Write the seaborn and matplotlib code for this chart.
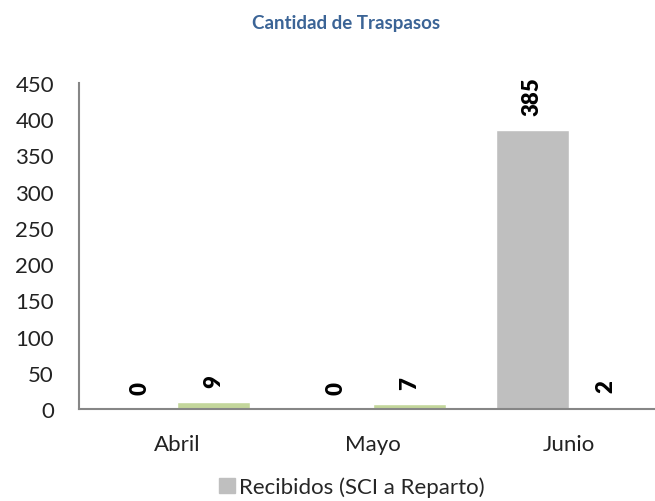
import matplotlib
matplotlib.use("Agg")
import matplotlib.pyplot as plt
import matplotlib.patches as mpatches
import seaborn as sns
import pandas as pd

# datos
meses = ["Abril", "Mayo", "Junio"]
recibidos = [0, 0, 385]
enviados = [9, 7, 2]
series = ["Recibidos (SCI a Reparto)", "Enviados"]
colores = ["#BFBFBF", "#C3D69B"]

df = pd.DataFrame({
    "Mes": meses * 2,
    "Serie": [series[0]] * 3 + [series[1]] * 3,
    "Cantidad": recibidos + enviados,
})

sns.set_style("white")
plt.rcParams["font.family"] = ["Lato", "DejaVu Sans"]

fig = plt.figure(figsize=(6.55, 5.02), dpi=100)
ax = fig.add_axes([79 / 655, 1 - 410 / 502, 576 / 655, 326 / 502])

sns.barplot(data=df, x="Mes", y="Cantidad", hue="Serie", order=meses,
            hue_order=series, palette=colores, width=0.745, saturation=1,
            legend=False, ax=ax)

for cont in ax.containers:
    ax.bar_label(cont, labels=[f"{v:.0f}" for v in cont.datavalues],
                 rotation=90, fontweight="heavy", fontsize=16, padding=11,
                 color="black")

ax.set_ylim(0, 450)
ax.set_yticks(range(0, 451, 50))
ax.set_xlim(-0.5, 2.439)
ax.set_xlabel("")
ax.set_ylabel("")
ax.tick_params(axis="y", length=0, pad=18, labelsize=16, colors="#222222")
ax.tick_params(axis="x", length=0, pad=18, labelsize=16, colors="#222222")
for s in ["top", "right"]:
    ax.spines[s].set_visible(False)
for s in ["left", "bottom"]:
    ax.spines[s].set_color("#868686")
    ax.spines[s].set_linewidth(1.5)

fig.text(346 / 655, 1 - 23 / 502, "Cantidad de Traspasos", ha="center",
         va="center", fontsize=13.5, fontweight="bold", color="#3B6496")

handle = mpatches.Patch(color=colores[0], label=series[0])
fig.legend(handles=[handle], loc="center", bbox_to_anchor=(352 / 655, 1 - 488 / 502),
           frameon=False, fontsize=16, handlelength=0.7, handleheight=0.7,
           handletextpad=0.2)

fig.savefig("out.png", dpi=100)
